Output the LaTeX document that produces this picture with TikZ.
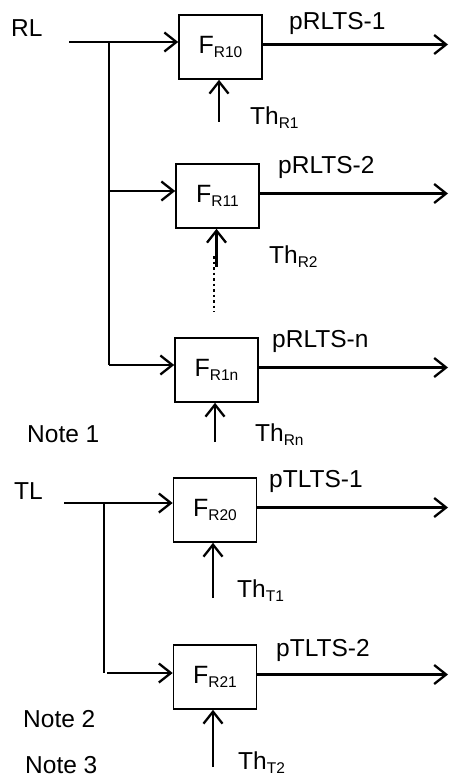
\documentclass[tikz,border=0pt]{standalone}
\usepackage{fontspec}
\setmainfont{Liberation Sans}
\usetikzlibrary{arrows.meta,calc}
\newcommand\Lo[1]{\raisebox{-4pt}{\fontsize{15.5pt}{15.5pt}\selectfont #1}}

\begin{document}
\begin{tikzpicture}[x=1pt,y=-1pt,
  blk/.style={draw,line width=1.6pt,minimum width=83pt,minimum height=64pt,inner sep=0pt,font=\fontsize{25pt}{25pt}\selectfont},
  lbl/.style={anchor=base west,inner sep=0pt,font=\fontsize{24.5pt}{24.5pt}\selectfont},
  sig/.style={line width=2.3pt,-{Straight Barb[length=12pt,width=19pt]}},
  bus/.style={line width=1.1pt}]

	\useasboundingbox (0,0) rectangle (449,778);

	% the filter blocks
	\node[blk] (fa) at (220.5,47) {F\Lo{R10}};
	\node[blk] (fb) at (217.5,196) {F\Lo{R11}};
	\node[blk] (fn) at (216.5,370) {F\Lo{R1n}};
	\node[blk] (ta) at (215,510) {F\Lo{R20}};
	\node[blk] (tb) at (215,677) {F\Lo{R21}};

	% inputs
	\node[lbl] (rl) at (11,37) {RL};
	\node[lbl] (tl) at (14,499) {TL};
	\coordinate (rlin) at (69,42);
	\coordinate (tlin) at (64,503);
	\coordinate (rlbus) at (109,42);
	\coordinate (tlbus) at (104,503);
	\draw[sig] (rlin) -- ([yshift=5pt]fa.west);
	\draw[sig] (tlin) -- ([yshift=7pt]ta.west);
	\coordinate (fbin) at ([yshift=5pt]fb.west);
	\coordinate (fnin) at ([yshift=5pt]fn.west);
	\coordinate (tbin) at ([yshift=4pt]tb.west);
	\draw[bus] (rlbus) -- (rlbus |- fnin);
	\draw[bus] (tlbus) -- (tlbus |- tbin);
	\draw[sig] (rlbus |- fbin) -- (fbin);
	\draw[sig] (rlbus |- fnin) -- (fnin);
	\draw[sig] ([xshift=3pt]tlbus |- tbin) -- (tbin);

	% outputs
	\coordinate (rend) at (448,0);
	\foreach \b in {fa,fb,fn,ta,tb}
	  \draw[sig] ([yshift=2.5pt]\b.east) coordinate (out\b) -- (out\b -| rend);
	\node[lbl] (oa) at (289,30) {pRLTS-1};
	\node[lbl] (ob) at (278,174) {pRLTS-2};
	\node[lbl] (on) at (272,347) {pRLTS-n};
	\node[lbl] (oc) at (269,487) {pTLTS-1};
	\node[lbl] (od) at (276,656) {pTLTS-2};

	% thresholds
	\foreach \b/\x/\y in {fa/219/122,fb/216.5/267,fn/215/442,ta/213/598,tb/213/767}
	  \draw[sig] (\x,\y) coordinate (th\b) -- (th\b |- \b.south);
	\draw[line width=1.7pt,dash pattern=on 2.5pt off 3pt] (214,256) -- (214,312);
	\node[lbl] (tha) at (250,125) {Th\Lo{R1}};
	\node[lbl] (thb) at (269,263) {Th\Lo{R2}};
	\node[lbl] (thn) at (255,441) {Th\Lo{Rn}};
	\node[lbl] (thc) at (237,597) {Th\Lo{T1}};
	\node[lbl] (thd) at (238,769) {Th\Lo{T2}};

	% notes
	\node[lbl] (n1) at (27,442) {Note 1};
	\node[lbl] (n2) at (23,727) {Note 2};
	\node[lbl] (n3) at (25,773) {Note 3};
\end{tikzpicture}
\end{document}
